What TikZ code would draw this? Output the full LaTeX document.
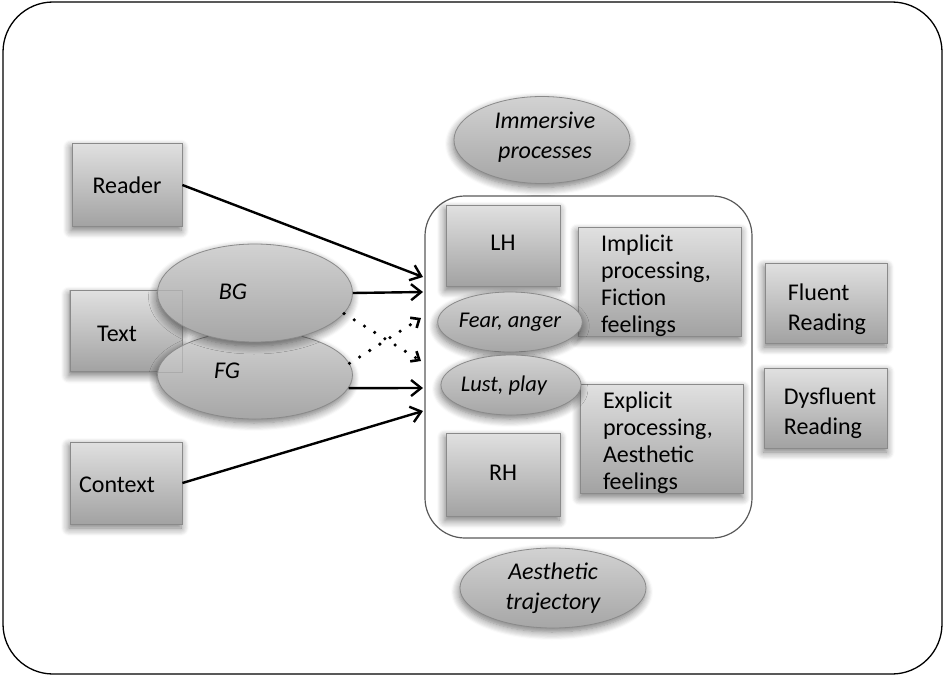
\documentclass[tikz,border=0pt]{standalone}
\usepackage{fontspec}
\setmainfont{Carlito}
\usetikzlibrary{shapes.geometric,arrows.meta,shadows.blur}

\definecolor{boxtop}{HTML}{E0E0E0}
\definecolor{boxbot}{HTML}{A2A2A2}
\definecolor{elltop}{HTML}{D2D2D2}
\definecolor{ellbot}{HTML}{A6A6A6}
\definecolor{edge}{HTML}{8A8A8A}

\tikzset{
  softshadow/.style={blur shadow={shadow blur steps=8, shadow blur radius=8pt,
      shadow xshift=-1pt, shadow yshift=-4pt, shadow opacity=55}},
  bigtext/.style={font=\fontsize{24}{27}\selectfont, inner sep=0pt},
  graybox/.style={rectangle, draw=edge, line width=0.8pt, top color=boxtop,
      bottom color=boxbot, softshadow, inner sep=0pt, bigtext},
  grayell/.style={ellipse, draw=edge, line width=0.8pt, top color=elltop,
      bottom color=ellbot, softshadow, inner sep=0pt, font=\fontsize{24}{30}\selectfont\itshape},
  smallell/.style={grayell, font=\fontsize{22.5}{26}\selectfont\itshape},
  flow/.style={line width=2.4pt, -{Straight Barb[length=10pt,width=16pt,line width=2.4pt]}},
  crossflow/.style={line width=3.6pt, line cap=round, dash pattern=on 0pt off 12pt,
      -{Straight Barb[length=7pt,width=12pt,line width=2.6pt]}},
}

\begin{document}
\begin{tikzpicture}[x=1pt,y=-1pt]
  \useasboundingbox (0,0) rectangle (946,677);

  % outer frame
  \draw[line width=1.3pt, rounded corners=50pt] (3,2) rectangle (942,674);

  % container for the hemispheric processes
  \draw[line width=1.2pt, draw=black!65, rounded corners=40pt] (425,196) rectangle (752,538);

  % input boxes
  \node[graybox, minimum width=110pt, minimum height=83pt] (reader) at (127,185) {Reader};
  \node[graybox, minimum width=112pt, minimum height=81pt] (textbox) at (126,331) {};
  \node[graybox, minimum width=112pt, minimum height=82pt] (context) at (126,483) {};
  \node[bigtext] (contextlbl) at (117,485) {Context};

  % background / foreground ellipses over the text box
  \node[grayell, minimum width=195pt, minimum height=88pt] (fg) at (255,375) {};
  \node[bigtext, font=\fontsize{24}{27}\selectfont\itshape] (fglbl) at (227,371) {FG};
  \node[grayell, minimum width=195pt, minimum height=98pt] (bg) at (255,293) {};
  \node[bigtext, font=\fontsize{24}{27}\selectfont\itshape] (bglbl) at (233,292) {BG};
  % the text box shows faintly through the ellipses
  \draw[edge, line width=0.8pt, opacity=0.35] (textbox.north west) rectangle (textbox.south east);
  \node[bigtext] (textlbl) at (117,334) {Text};

  % hemispheres and emotions
  \node[graybox, minimum width=114pt, minimum height=81pt] (lh) at (503,246) {};
  \node[bigtext] (lhlbl) at (503,243) {LH};
  \node[graybox, minimum width=114pt, minimum height=83pt] (rh) at (503,475) {};
  \node[bigtext] (rhlbl) at (503,473) {RH};
  \node[graybox, minimum width=163pt, minimum height=109pt] (implicit) at (660,282) {};
  \node[bigtext, text width=118pt, align=left] (implicitlbl) at (660,285.5)
    {Implicit\\processing,\\Fiction\\feelings};
  \node[graybox, minimum width=163pt, minimum height=109pt] (explicit) at (662,439) {};
  \node[bigtext, text width=118pt, align=left] (explicitlbl) at (662,443)
    {Explicit\\processing,\\Aesthetic\\feelings};
  \node[smallell, minimum width=140pt, minimum height=60pt] (fear) at (510,322) {Fear, anger};
  \node[smallell, minimum width=140pt, minimum height=60pt] (lust) at (511,385) {};
  \node[bigtext, font=\fontsize{22.5}{26}\selectfont\itshape] (lustlbl) at (504,385) {Lust, play};

  % outcomes
  \node[graybox, minimum width=122pt, minimum height=80pt] (fluent) at (826,303) {};
  \node[bigtext, align=left, font=\fontsize{24}{30}\selectfont] (fluentlbl) at (827,309) {Fluent\\Reading};
  \node[graybox, minimum width=123pt, minimum height=80pt] (dysfluent) at (826,408) {};
  \node[bigtext, align=left, font=\fontsize{24}{30}\selectfont] (dysfluentlbl) at (830,413) {Dysfluent\\Reading};

  % trajectories
  \node[grayell, minimum width=176pt, minimum height=87pt] (immersive) at (542,140) {};
  \node[bigtext, align=center, font=\fontsize{24}{30}\selectfont\itshape] (immersivelbl) at (545,137) {Immersive\\processes};
  \node[grayell, minimum width=186pt, minimum height=80pt, align=center] (aesthetic) at (553,588) {Aesthetic\\trajectory};

  % arrow targets at the container edge
  \coordinate (inReader) at (423,277);
  \coordinate (inBG) at (423,292);
  \coordinate (inFGx) at (421,318);
  \coordinate (inBGx) at (421,361);
  \coordinate (inFG) at (423,388);
  \coordinate (inContext) at (423,411);

  \draw[flow] (reader.east) -- (inReader);
  \draw[flow] (bg.east) -- (inBG);
  \draw[flow] (fg.-8) -- (inFG);
  \draw[flow] (context.east) -- (inContext);
  \draw[crossflow] (bg.-13) -- (inBGx);
  \draw[crossflow] (fg.7) -- (inFGx);
\end{tikzpicture}
\end{document}
